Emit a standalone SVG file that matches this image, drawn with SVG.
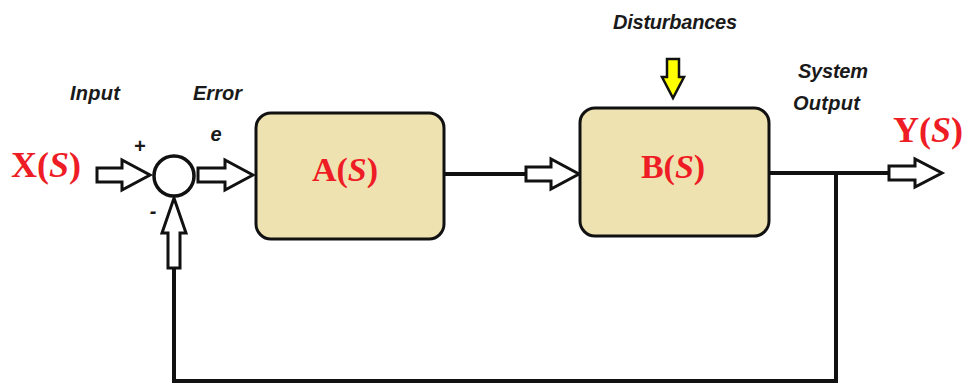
<svg xmlns="http://www.w3.org/2000/svg" width="969" height="385" viewBox="0 0 969 385">
<style>
.blk{fill:#EEE3B0;stroke:#111;stroke-width:3}
.harrow{fill:#fff;stroke:#111;stroke-width:3;stroke-linejoin:miter}
.line{fill:none;stroke:#111;stroke-width:4}
.lbl{font-family:"Liberation Sans",Arial,sans-serif;font-weight:bold;font-style:italic;font-size:20px;fill:#1a1a1a}
.sig{font-family:"Liberation Serif","Times New Roman",serif;font-weight:bold;fill:#ee1c24}
.it{font-style:italic}
</style>
<rect width="969" height="385" fill="#fff"/>
<g id="connectors">
<polyline class="line" points="174,268 174,381 836,381 836,173"/>
<line class="line" x1="444" y1="174" x2="526" y2="174"/>
<line class="line" x1="770" y1="173" x2="889" y2="173"/>
<polygon class="harrow" points="97,168 122,168 122,160 150,175 122,190 122,182 97,182"/>
<polygon class="harrow" points="198,168 225,168 225,160 253,175 225,190 225,182 198,182"/>
<polygon class="harrow" points="526,167 551,167 551,159 579,174 551,189 551,181 526,181"/>
<polygon class="harrow" points="889,166 915,166 915,159 942,173 915,187 915,180 889,180"/>
<polygon class="harrow" points="168,268 168,233 162,233 174,198 186,233 180,233 180,268"/>
<polygon fill="#ffff00" stroke="#111" stroke-width="2.5" points="667,59 679,59 679,77 684,77 673,98 662,77 667,77"/>
</g>
<g id="sum">
<circle cx="174" cy="176" r="20" fill="#fff" stroke="#111" stroke-width="3.5"/>
<text class="lbl" x="139.5" y="153" text-anchor="middle" font-size="18">+</text>
<text class="lbl" x="153" y="218" text-anchor="middle" font-size="18">-</text>
</g>
<g id="blockA">
<rect class="blk" x="256" y="113" width="188" height="126" rx="15"/>
<text class="sig" x="345" y="181" text-anchor="middle" font-size="34">A(<tspan class="it">S</tspan>)</text>
</g>
<g id="blockB">
<rect class="blk" x="580" y="108" width="189" height="128" rx="15"/>
<text class="sig" x="673" y="178" text-anchor="middle" font-size="34">B(<tspan class="it">S</tspan>)</text>
</g>
<g id="input">
<text class="sig" x="11" y="177" font-size="36">X(<tspan class="it">S</tspan>)</text>
<text class="lbl" x="70" y="100" textLength="50">Input</text>
</g>
<g id="error">
<text class="lbl" x="193" y="100" textLength="49">Error</text>
<text class="lbl" x="216" y="141" text-anchor="middle">e</text>
</g>
<g id="disturbances">
<text class="lbl" x="613" y="29" textLength="124">Disturbances</text>
</g>
<g id="output">
<text class="lbl" x="798" y="78" textLength="70">System</text>
<text class="lbl" x="793" y="110" textLength="67">Output</text>
<text class="sig" x="893" y="142" font-size="36">Y(<tspan class="it">S</tspan>)</text>
</g>
</svg>
